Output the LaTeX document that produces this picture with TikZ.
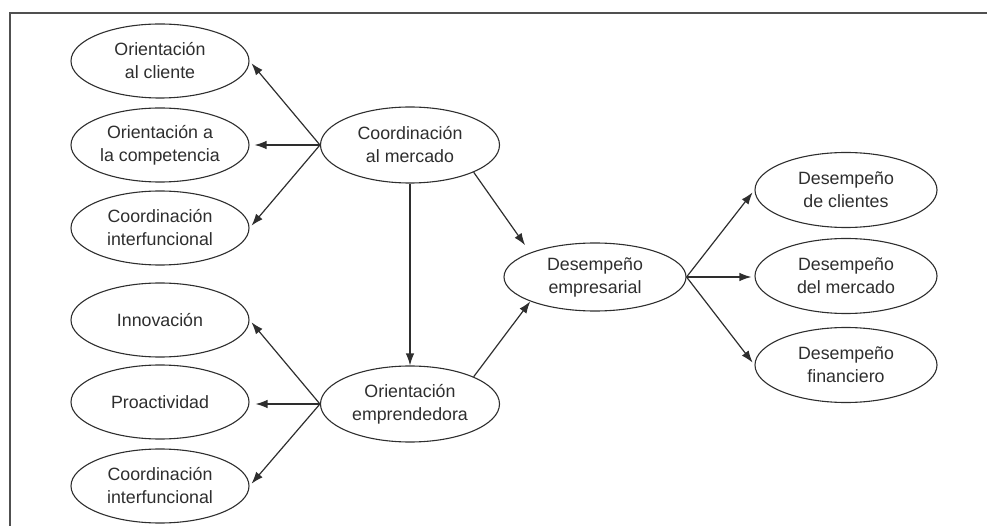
\documentclass[tikz,border=0pt]{standalone}
\usepackage{fontspec}
\setmainfont{Liberation Sans}
\usetikzlibrary{shapes.geometric,arrows.meta}
\definecolor{ink}{HTML}{2E2E2E}
\definecolor{framec}{HTML}{505050}
\begin{document}
\begin{tikzpicture}[x=1pt,y=-1pt,
  el/.style={ellipse,draw=ink,line width=1.1pt,minimum width=178pt,minimum height=74pt,
    inner sep=0pt,align=center,text=ink,font=\fontsize{17.8}{23}\selectfont},
  arr/.style={draw=ink,line width=1.2pt,-{Latex[length=12pt,width=8.5pt]}},
  framel/.style={draw=framec,line width=2pt}]
\useasboundingbox (0,0) rectangle (987,526);
\draw[framel] (987,13) -- (10,13) -- (10,527);
% left column
\node[el] (oc) at (160,61) {Orientación\\al cliente};
\node[el] (oa) at (160,145) {Orientación a\\la competencia};
\node[el] (ci) at (160,228) {Coordinación\\interfuncional};
\node[el] (in) at (160,320) {Innovación};
\node[el] (pr) at (160,402) {Proactividad};
\node[el] (cb) at (160,486) {Coordinación\\interfuncional};
% middle
\node[el,minimum width=179pt,minimum height=76pt] (cm) at (410,145) {Coordinación\\al mercado};
\node[el,minimum width=179pt,minimum height=76pt] (oe) at (410,404) {Orientación\\emprendedora};
\node[el,minimum width=182pt,minimum height=68pt] (de) at (595,277) {Desempeño\\empresarial};
% right
\node[el,minimum width=182pt,minimum height=75pt] (dc) at (846,190) {Desempeño\\de clientes};
\node[el,minimum width=182pt,minimum height=75pt] (dm) at (846,276) {Desempeño\\del mercado};
\node[el,minimum width=182pt,minimum height=75pt] (df) at (846,365) {Desempeño\\financiero};
% arrows
\draw[arr,shorten >=3pt] (cm.west) -- (oc.east);
\draw[arr,shorten >=5pt] (cm.west) -- (cm.west -| oa.east);
\draw[arr,shorten >=3pt] (cm.west) -- (ci.east);
\draw[arr,shorten >=3pt] (oe.west) -- (in.east);
\draw[arr,shorten >=6pt] (oe.west) -- (oe.west -| pr.east);
\draw[arr,shorten >=3pt] (oe.west) -- (cb.east);
\draw[arr] (cm.south) -- (oe.north);
\draw[arr,shorten >=9pt] (cm.south east) -- (de.north west);
\draw[arr] (oe.north east) -- (de.south west);
\draw[arr,shorten >=3pt] (de.east) -- (dc.west);
\draw[arr,shorten >=3pt] (de.east) -- (de.east -| dm.west);
\draw[arr,shorten >=3pt] (de.east) -- (df.west);
\end{tikzpicture}
\end{document}
